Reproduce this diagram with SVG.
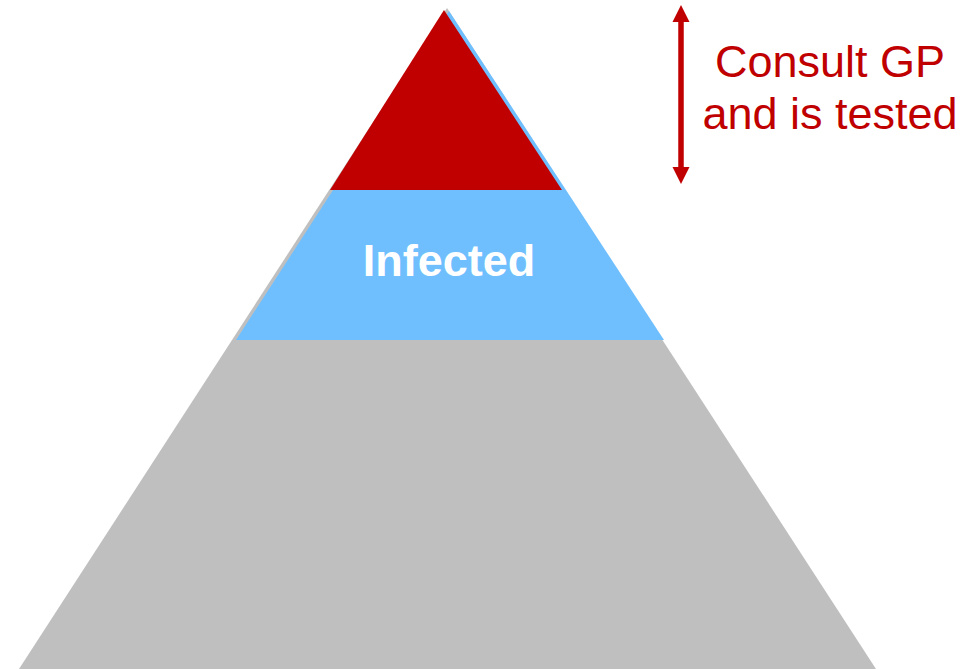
<svg xmlns="http://www.w3.org/2000/svg" width="980" height="669" viewBox="0 0 980 669">
<style>
.lbl{font-family:"Liberation Sans",Arial,sans-serif;font-size:45px;text-anchor:middle}
.arr{fill:#c00000}
</style>
<rect width="980" height="669" fill="#ffffff"/>
<g id="base"><polygon points="447,8 19,669 876,669" fill="#bfbfbf"/></g>
<g id="infected">
<polygon points="449,11 236,340 664,340" fill="#6fbfff"/>
<text class="lbl" x="449" y="276" fill="#ffffff" font-weight="bold">Infected</text>
</g>
<g id="tested"><polygon points="444,10 330,190 562,190" fill="#c00000"/></g>
<g id="connectors">
<line x1="681" y1="20" x2="681" y2="169" stroke="#c00000" stroke-width="5.5"/>
<polygon class="arr" points="681,5 689.5,22 672.5,22"/>
<polygon class="arr" points="681,184 689.5,167 672.5,167"/>
</g>
<g id="label">
<text class="lbl" x="830" y="77" fill="#c00000">Consult GP</text>
<text class="lbl" x="830" y="129" fill="#c00000">and is tested</text>
</g>
</svg>
